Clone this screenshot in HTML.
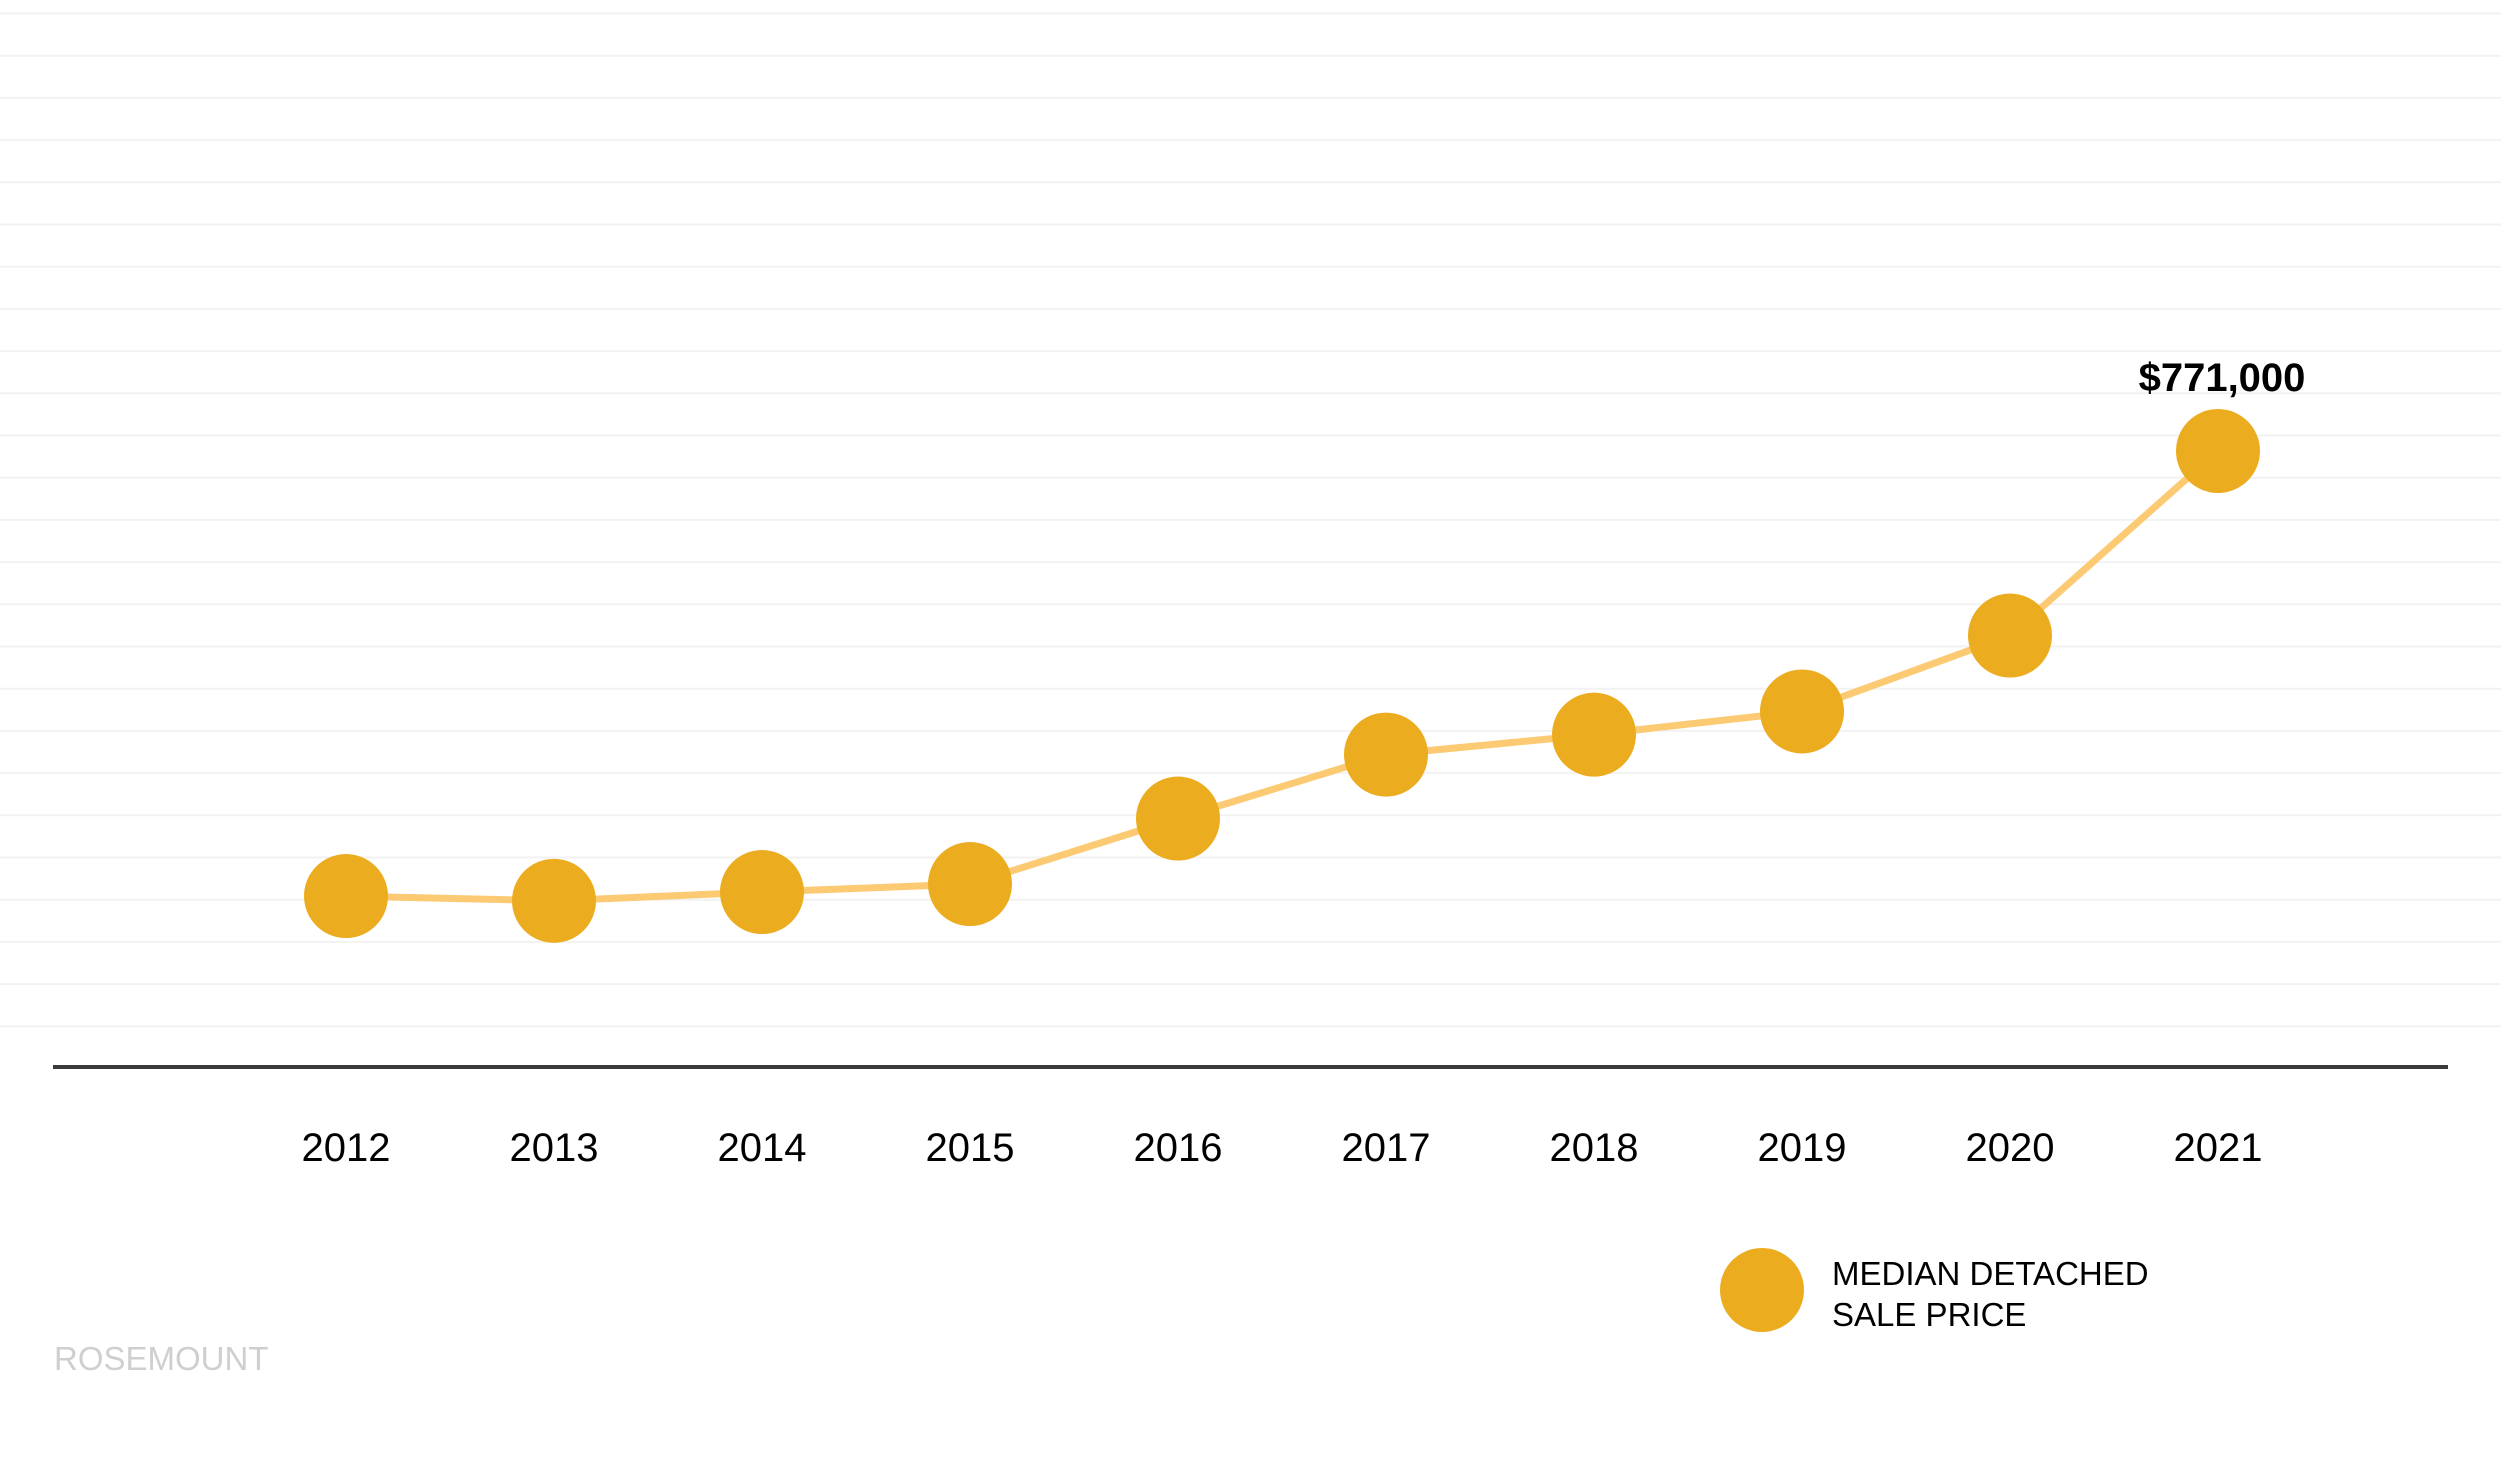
<!DOCTYPE html>
<html><head><meta charset="utf-8"><style>
html,body{margin:0;padding:0;background:#fff;}
svg{display:block;font-family:"Liberation Sans",sans-serif;}
</style></head><body>
<svg id="chart" width="2501" height="1459" viewBox="0 0 2501 1459" xmlns="http://www.w3.org/2000/svg">
<g id="grid"></g>
<line x1="53" y1="1067" x2="2448" y2="1067" stroke="#3a3a3a" stroke-width="4"/>
<g id="xlabels"></g>
<polyline id="line" fill="none" stroke="#fcca73" stroke-width="7"/>
<g id="points"></g>
<text id="lastlabel" font-size="40" font-weight="bold" fill="#000" text-anchor="middle"></text>
<g>
<circle cx="1762" cy="1290" r="42" fill="#ecac20"/>
<text x="1832" y="1285" font-size="33" fill="#000">MEDIAN DETACHED</text>
<text x="1832" y="1326" font-size="33" fill="#000">SALE PRICE</text>
</g>
<text x="54" y="1370" font-size="33" fill="#cfcfcf">ROSEMOUNT</text>
</svg>
<script>
const years = ["2012","2013","2014","2015","2016","2017","2018","2019","2020","2021"];
const prices = [214000,208000,219000,229000,311000,391000,416000,445000,540000,771000];
const labelText = "$771,000";
const NS = "http://www.w3.org/2000/svg";
function xScale(i){ return 346 + i * 208; }
function yScale(v){ return 1067 - v * (616 / 771000); }
const grid = document.getElementById('grid');
for (let k = 0; k < 25; k++) {
  const y = 13.5 + k * 42.2;
  const l = document.createElementNS(NS, 'line');
  
  
  l.setAttribute('x1', 0); l.setAttribute('x2', 2501);
  l.setAttribute('y1', y); l.setAttribute('y2', y);
  l.setAttribute('stroke', '#f2f2f2'); l.setAttribute('stroke-width', '2');
  grid.appendChild(l);
}
const xl = document.getElementById('xlabels');
const pts = document.getElementById('points');
let poly = [];
years.forEach((yr, i) => {
  const t = document.createElementNS(NS, 'text');
  
  
  t.setAttribute('x', xScale(i)); t.setAttribute('y', 1161);
  t.setAttribute('text-anchor', 'middle'); t.setAttribute('font-size', '40');
  t.textContent = yr; xl.appendChild(t);
  const cx = xScale(i), cy = yScale(prices[i]);
  poly.push(cx + ',' + cy);
  const c = document.createElementNS(NS, 'circle');
  
  
  c.setAttribute('cx', cx); c.setAttribute('cy', cy); c.setAttribute('r', 42);
  c.setAttribute('fill', '#ecac20');
  pts.appendChild(c);
});
document.getElementById('line').setAttribute('points', poly.join(' '));
const ll = document.getElementById('lastlabel');
const li = prices.length - 1;
ll.setAttribute('x', xScale(li) + 4);
ll.setAttribute('y', yScale(prices[li]) - 60);
ll.textContent = labelText;
</script>
</body></html>
